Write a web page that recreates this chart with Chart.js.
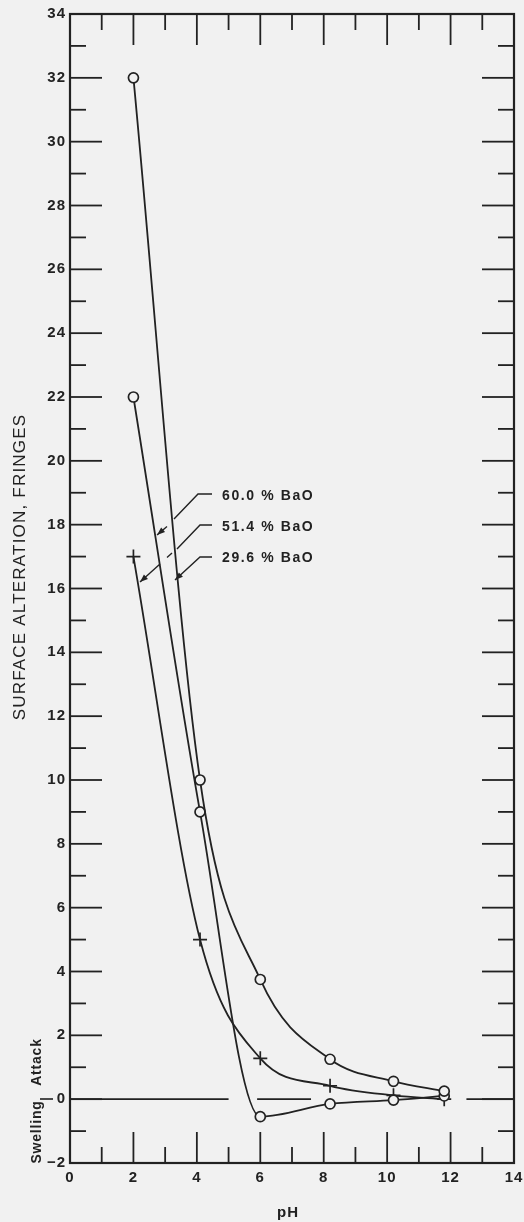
<!DOCTYPE html>
<html><head><meta charset="utf-8">
<script src="https://cdn.jsdelivr.net/npm/chart.js@4"></script>
<style>html,body{margin:0;padding:0;background:#f1f1f1;}canvas{display:block}</style>
</head><body>
<canvas id="c" width="524" height="1222"></canvas>
<script>
// ---- data ----
const pH = [2, 4.1, 6, 8.2, 10.2, 11.8];
const baO296 = [32, 10, 3.75, 1.25, 0.56, 0.25];
const baO600 = [22, 9, -0.55, -0.15, -0.03, 0.1];
const baO514 = [17, 5, 1.28, 0.42, 0.12, 0.0];
const zeroSegments = [[0, 5.0], [5.9, 7.6], [12.5, 14]];
const xTicks = [0, 2, 4, 6, 8, 10, 12, 14];
const yTicks = [-2, 0, 2, 4, 6, 8, 10, 12, 14, 16, 18, 20, 22, 24, 26, 28, 30, 32, 34];
const seriesNames = ['29.6 % BaO', '60.0 % BaO', '51.4 % BaO'];
const xTitle = 'pH';
const yTitle = 'SURFACE ALTERATION, FRINGES';

const ink = '#222222';
const bg = '#f1f1f1';
const FONT = 'Liberation Sans';

function pts(ys) { return pH.map((x, i) => ({x: x, y: ys[i]})); }
function zeroData() {
  const d = [];
  zeroSegments.forEach((s, i) => {
    if (i > 0) d.push({x: (zeroSegments[i-1][1] + s[0]) / 2, y: null});
    d.push({x: s[0], y: 0}); d.push({x: s[1], y: 0});
  });
  return d;
}
function ds(label, ys, style) {
  return {
    label: label, data: pts(ys), borderColor: ink, borderWidth: 1.8,
    cubicInterpolationMode: 'monotone', fill: false,
    pointStyle: style, pointRadius: style === 'cross' ? 7 : 5, pointHoverRadius: style === 'cross' ? 7 : 5,
    pointBorderColor: ink, pointBackgroundColor: bg, pointBorderWidth: 1.7
  };
}

function arrowHead(ctx, x0, y0, x1, y1) {
  const a = Math.atan2(y1 - y0, x1 - x0), L = 8, W = 3;
  ctx.beginPath();
  ctx.moveTo(x1, y1);
  ctx.lineTo(x1 - L*Math.cos(a) + W*Math.sin(a), y1 - L*Math.sin(a) - W*Math.cos(a));
  ctx.lineTo(x1 - L*Math.cos(a) - W*Math.sin(a), y1 - L*Math.sin(a) + W*Math.cos(a));
  ctx.closePath(); ctx.fill();
}
function poly(ctx, p) {
  ctx.beginPath(); ctx.moveTo(p[0][0], p[0][1]);
  for (let i = 1; i < p.length; i++) ctx.lineTo(p[i][0], p[i][1]);
  ctx.stroke();
}

const decor = {
  id: 'decor',
  beforeDraw(chart) {
    const ctx = chart.ctx;
    ctx.save(); ctx.fillStyle = bg; ctx.fillRect(0, 0, chart.width, chart.height); ctx.restore();
    ctx.letterSpacing = '1px';
  },
  beforeDatasetsDraw(chart) {
    const ctx = chart.ctx, a = chart.chartArea, xs = chart.scales.x, ys = chart.scales.y;
    ctx.save();
    ctx.strokeStyle = ink; ctx.lineWidth = 2.2;
    ctx.strokeRect(a.left, a.top, a.right - a.left, a.bottom - a.top);
    ctx.lineWidth = 1.8;
    for (let v = 1; v < 14; v++) {
      const px = xs.getPixelForValue(v), len = v % 2 === 0 ? 31 : 16;
      poly(ctx, [[px, a.bottom], [px, a.bottom - len]]);
      poly(ctx, [[px, a.top], [px, a.top + len]]);
    }
    for (let v = -1; v < 34; v++) {
      const py = ys.getPixelForValue(v), len = v % 2 === 0 ? 32 : 16;
      poly(ctx, [[a.left, py], [a.left + len, py]]);
      poly(ctx, [[a.right, py], [a.right - len, py]]);
    }
    ctx.restore();
  },
  afterDatasetsDraw(chart) {
    const ctx = chart.ctx, a = chart.chartArea;
    ctx.save();
    ctx.fillStyle = ink; ctx.strokeStyle = ink;
    // y title
    ctx.save();
    ctx.translate(20, 567); ctx.rotate(-Math.PI/2);
    ctx.font = '17px "' + FONT + '"'; ctx.letterSpacing = '1.2px';
    ctx.textAlign = 'center'; ctx.textBaseline = 'middle';
    ctx.fillText(yTitle, 0, 0);
    ctx.restore();
    // Swelling | Attack
    ctx.save();
    ctx.font = 'bold 14px "' + FONT + '"'; ctx.letterSpacing = '0.8px';
    ctx.textAlign = 'center'; ctx.textBaseline = 'middle';
    ctx.translate(37, 0); ctx.rotate(-Math.PI/2);
    ctx.fillText('Attack', -1062, 0);
    ctx.fillText('Swelling', -1132, 0);
    ctx.restore();
    ctx.lineWidth = 1.6;
    poly(ctx, [[40, 1099], [53, 1099]]);
    // x title
    ctx.font = 'bold 15px "' + FONT + '"'; ctx.letterSpacing = '1px';
    ctx.textAlign = 'center'; ctx.textBaseline = 'middle';
    ctx.fillText(xTitle, 288, 1213);
    // series labels with leaders
    ctx.font = 'bold 14px "' + FONT + '"'; ctx.letterSpacing = '1.6px';
    ctx.textAlign = 'left';
    ctx.fillText(seriesNames[1], 222, 496);
    ctx.fillText(seriesNames[2], 222, 527);
    ctx.fillText(seriesNames[0], 222, 558);
    ctx.lineWidth = 1.4;
    // 60.0
    poly(ctx, [[212, 494], [198, 494], [174, 519]]);
    poly(ctx, [[167, 526.5], [157, 535]]);
    arrowHead(ctx, 167, 526.5, 157, 535);
    // 51.4
    poly(ctx, [[212, 525], [200, 525], [177, 549]]);
    poly(ctx, [[172, 553], [167, 557.5]]);
    poly(ctx, [[160, 564], [140, 582]]);
    arrowHead(ctx, 160, 564, 140, 582);
    // 29.6
    poly(ctx, [[212, 557], [200, 557], [175, 580]]);
    arrowHead(ctx, 200, 557, 175, 580);
    ctx.restore();
  }
};

const tickFont = {family: FONT, size: 15, weight: 'bold'};
const fmt = v => v < 0 ? '\u2212' + (-v) : String(v);

new Chart(document.getElementById('c'), {
  type: 'line',
  data: {
    datasets: [
      ds(seriesNames[0], baO296, 'circle'),
      ds(seriesNames[1], baO600, 'circle'),
      ds(seriesNames[2], baO514, 'cross'),
      {label: 'zero', data: zeroData(), borderColor: ink, borderWidth: 1.6, pointRadius: 0, pointHoverRadius: 0, spanGaps: false, tension: 0}
    ]
  },
  options: {
    responsive: false, animation: false, devicePixelRatio: 1,
    layout: {padding: {top: 14, right: 10, left: 0, bottom: 0}},
    plugins: {legend: {display: false}, tooltip: {enabled: false}},
    events: [],
    scales: {
      x: {
        type: 'linear', min: 0, max: 14, position: 'bottom',
        afterBuildTicks: s => { s.ticks = xTicks.map(v => ({value: v})); },
        ticks: {color: ink, font: tickFont, padding: 6, maxRotation: 0, autoSkip: false, callback: fmt},
        grid: {display: false, drawTicks: false}, border: {display: false},
        afterFit: s => { s.height = 59; s.paddingLeft = 0; s.paddingRight = 0; }
      },
      y: {
        type: 'linear', min: -2, max: 34,
        afterBuildTicks: s => { s.ticks = yTicks.map(v => ({value: v})); },
        ticks: {color: ink, font: tickFont, padding: 4, autoSkip: false, callback: fmt},
        grid: {display: false, drawTicks: false}, border: {display: false},
        afterFit: s => { s.width = 70; s.paddingTop = 0; s.paddingBottom = 0; }
      }
    }
  },
  plugins: [decor]
});
</script>
</body></html>
